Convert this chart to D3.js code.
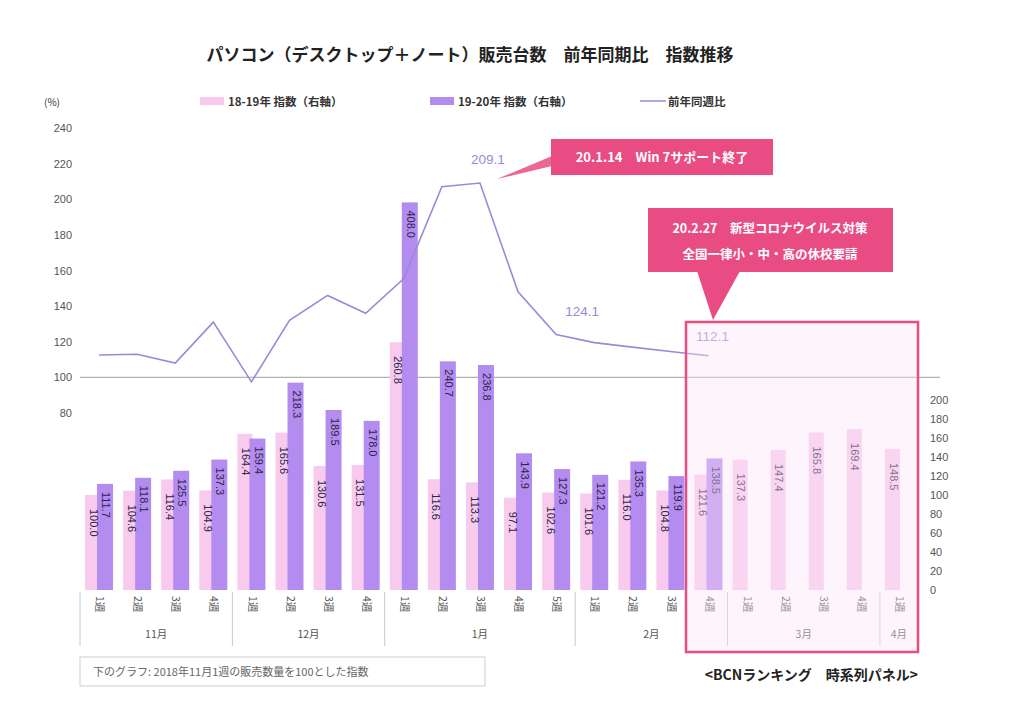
<!DOCTYPE html>
<html><head><meta charset="utf-8">
<script src="https://cdn.jsdelivr.net/npm/d3@7"></script>
<style>
body{margin:0;background:#fff;}
svg{display:block;font-family:"Noto Sans CJK JP","Noto Sans",sans-serif;}
</style></head>
<body><svg id="c" width="1024" height="715"></svg>
<script>
const weekLabels = ["1週","2週","3週","4週","1週","2週","3週","4週","1週","2週","3週","4週","5週","1週","2週","3週","4週","1週","2週","3週","4週","1週"];
const monthNames = ["11月","12月","1月","2月","3月","4月"];
const monthWeeks = [4,4,5,4,4,1];
const idx1819 = [100.0,104.6,116.4,104.9,164.4,165.6,130.6,131.5,260.8,116.6,113.3,97.1,102.6,101.6,116.0,104.8,121.6,137.3,147.4,165.8,169.4,148.5];
const idx1920 = [111.7,118.1,125.5,137.3,159.4,218.3,189.5,178.0,408.0,240.7,236.8,143.9,127.3,121.2,135.3,119.9,138.5,null,null,null,null,null];
const yoy = [112.6,113.0,108.0,131.0,97.5,132.0,146.0,136.0,155.5,207.0,209.1,148.0,124.1,119.5,117.0,114.5,112.1];
const yoyLabelIdx = [10,12,16];
const leftTicks = [80,100,120,140,160,180,200,220,240];
const rightTicks = [0,20,40,60,80,100,120,140,160,180,200];

const svg = d3.select("#c");
const n = weekLabels.length;
const x = d3.scaleBand().domain(d3.range(n)).range([80,918]);
const bw = x.bandwidth();
const cx = i => x(i) + bw/2;
const yL = d3.scaleLinear().domain([80,240]).range([413,128]);
const yR = d3.scaleLinear().domain([0,200]).range([590,400]);

const PINK = "#f8cbee", PURPLE = "#b48cf0", LINE = "#948cd8", HOT = "#e84c82", TXT = "#2a2548";

// title
svg.append("text").attr("x",470).attr("y",61).attr("text-anchor","middle")
  .attr("font-size",17).attr("font-weight","bold").attr("fill","#222")
  .text("パソコン（デスクトップ＋ノート）販売台数　前年同期比　指数推移");

// legend
svg.append("text").attr("x",44).attr("y",106).attr("font-size",10).attr("fill","#333").text("(%)");
const lg = [{t:"18-19年 指数（右軸）",c:PINK,x:200,type:"rect"},{t:"19-20年 指数（右軸）",c:PURPLE,x:430,type:"rect"},{t:"前年同週比",c:LINE,x:640,type:"line"}];
lg.forEach(d=>{
  if(d.type==="rect") svg.append("rect").attr("x",d.x).attr("y",97).attr("width",24).attr("height",8).attr("fill",d.c);
  else svg.append("line").attr("x1",d.x).attr("x2",d.x+26).attr("y1",101).attr("y2",101).attr("stroke",d.c).attr("stroke-width",1.5);
  svg.append("text").attr("x",d.x+28).attr("y",106).attr("font-size",11.5).attr("font-weight","bold").attr("fill","#333").text(d.t);
});

// left axis
const gL = svg.append("g").attr("transform","translate(72,0)")
  .call(d3.axisLeft(yL).tickValues(leftTicks).tickSize(0).tickPadding(0));
gL.select(".domain").remove();
gL.selectAll("text").attr("font-size",11).attr("fill","#555").attr("font-family","Liberation Sans, sans-serif");

// right axis
const gR = svg.append("g").attr("transform","translate(930,0)")
  .call(d3.axisRight(yR).tickValues(rightTicks).tickSize(0).tickPadding(0));
gR.select(".domain").remove();
gR.selectAll("text").attr("font-size",11).attr("fill","#555").attr("font-family","Liberation Sans, sans-serif");

// 100 reference line
svg.append("line").attr("x1",80).attr("x2",940).attr("y1",yL(100)).attr("y2",yL(100)).attr("stroke","#b0b0b0").attr("stroke-width",1.2);

// bars
svg.append("g").selectAll("rect").data(idx1819).join("rect")
  .attr("x",(d,i)=>cx(i)-14).attr("width",15)
  .attr("y",d=>yR(d)).attr("height",d=>yR(0)-yR(d)).attr("fill",PINK);
svg.append("g").selectAll("rect").data(idx1920.map((v,i)=>({v,i})).filter(d=>d.v!=null)).join("rect")
  .attr("x",d=>cx(d.i)-2).attr("width",16)
  .attr("y",d=>yR(d.v)).attr("height",d=>yR(0)-yR(d.v)).attr("fill",PURPLE);

// bar labels
svg.append("g").selectAll("text").data(idx1819).join("text")
  .attr("transform",(d,i)=>`translate(${cx(i)-6.5},${yR(d)+14}) rotate(90)`)
  .attr("dominant-baseline","middle").attr("font-size",11).attr("fill",TXT)
  .attr("font-family","Liberation Sans, sans-serif")
  .text(d=>d.toFixed(1));
svg.append("g").selectAll("text").data(idx1920.map((v,i)=>({v,i})).filter(d=>d.v!=null)).join("text")
  .attr("transform",d=>`translate(${cx(d.i)+6},${yR(d.v)+8}) rotate(90)`)
  .attr("dominant-baseline","middle").attr("font-size",11).attr("fill",TXT)
  .attr("font-family","Liberation Sans, sans-serif")
  .text(d=>d.v.toFixed(1));

// line
svg.append("path").datum(yoy)
  .attr("d",d3.line().x((d,i)=>cx(i)).y(d=>yL(d)))
  .attr("fill","none").attr("stroke",LINE).attr("stroke-width",1.6);
const lblOff = {10:[8,-19],12:[26,-18],16:[4,-15]};
yoyLabelIdx.forEach(i=>{
  svg.append("text").attr("x",cx(i)+lblOff[i][0]).attr("y",yL(yoy[i])+lblOff[i][1])
    .attr("text-anchor","middle").attr("font-size",13.5).attr("fill",LINE)
    .attr("font-family","Liberation Sans, sans-serif").text(yoy[i].toFixed(1));
});

// x axis: week labels
svg.append("g").selectAll("text").data(weekLabels).join("text")
  .attr("transform",(d,i)=>`translate(${cx(i)},596) rotate(90)`)
  .attr("dominant-baseline","middle").attr("font-size",10.5).attr("fill","#555").text(d=>d);
// month separators and names
let start = 0;
const bounds = [0];
monthWeeks.forEach(w=>{start+=w;bounds.push(start);});
bounds.forEach(b=>{
  const xx = b<n ? x(b) : x(n-1)+bw;
  svg.append("line").attr("x1",xx).attr("x2",xx).attr("y1",592).attr("y2",646).attr("stroke","#c8c8c8").attr("stroke-width",1);
});
monthNames.forEach((m,k)=>{
  const a = bounds[k], b = bounds[k+1];
  const mid = (x(a) + x(b-1)+bw)/2;
  svg.append("text").attr("x",mid).attr("y",638).attr("text-anchor","middle").attr("font-size",10.5).attr("fill","#555").text(m);
});

// highlight box (overlay)
svg.append("rect").attr("x",686).attr("y",322).attr("width",232).attr("height",330)
  .attr("fill","#fce3f4").attr("fill-opacity",0.4).attr("stroke",HOT).attr("stroke-width",2.5);

// callout 1
svg.append("polygon").attr("points","497,179 552,156 552,166").attr("fill",HOT).attr("opacity",0.85);
svg.append("rect").attr("x",551).attr("y",139).attr("width",222).attr("height",36).attr("fill",HOT);
svg.append("text").attr("x",662).attr("y",162).attr("text-anchor","middle").attr("font-size",13).attr("font-weight","bold").attr("fill","#fff")
  .text("20.1.14　Win 7サポート終了");

// callout 2
svg.append("polygon").attr("points","697,271 740,271 713,320").attr("fill",HOT);
svg.append("rect").attr("x",648).attr("y",208).attr("width",245).attr("height",64).attr("fill",HOT);
svg.append("text").attr("x",770).attr("y",233).attr("text-anchor","middle").attr("font-size",12.5).attr("font-weight","bold").attr("fill","#fff")
  .text("20.2.27　新型コロナウイルス対策");
svg.append("text").attr("x",770).attr("y",259).attr("text-anchor","middle").attr("font-size",12.5).attr("font-weight","bold").attr("fill","#fff")
  .text("全国一律小・中・高の休校要請");

// footnote
svg.append("rect").attr("x",80).attr("y",657).attr("width",405).attr("height",29).attr("fill","#fff").attr("stroke","#cfcfcf");
svg.append("text").attr("x",93).attr("y",676).attr("font-size",11).attr("fill","#666")
  .text("下のグラフ: 2018年11月1週の販売数量を100とした指数");
svg.append("text").attr("x",918).attr("y",680).attr("text-anchor","end").attr("font-size",14).attr("font-weight","bold").attr("fill","#222")
  .text("<BCNランキング　時系列パネル>");
</script></body></html>
